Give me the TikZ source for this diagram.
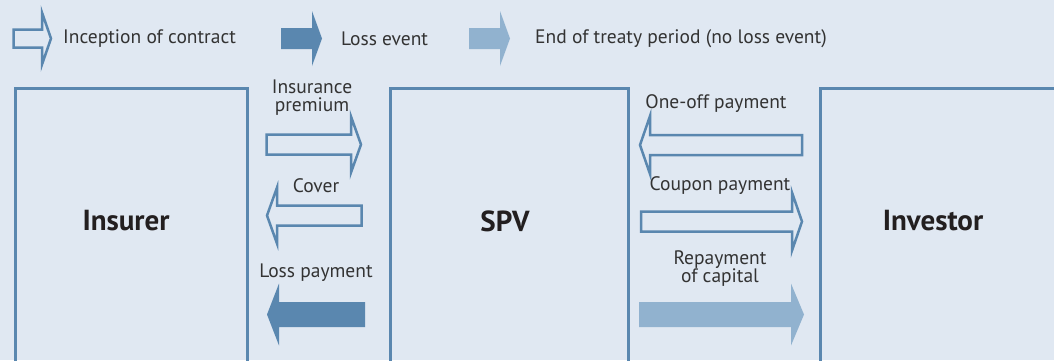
\documentclass[tikz,border=0pt]{standalone}
\usepackage{fontspec}
\setmainfont{PT Sans}
\definecolor{bg}{HTML}{E0E8F2}
\definecolor{blu}{HTML}{5A87AF}
\definecolor{lblu}{HTML}{91B2CF}
\definecolor{txt}{HTML}{333333}
\definecolor{btxt}{HTML}{231F20}
\tikzset{
  x=1pt,y=-1pt,
  box/.style={draw=blu,line width=3pt,fill=none,rectangle,inner sep=0pt,anchor=north west},
  boxlabel/.style={font=\fontsize{29}{32}\selectfont\bfseries,text=btxt},
  lbl/.style={font=\fontsize{19.5}{21}\selectfont,text=txt,align=center,inner sep=0pt},
  openarr/.style={draw=blu,line width=2.5pt,fill=none,line join=miter},
  darkarr/.style={fill=blu,draw=none},
  lightarr/.style={fill=lblu,draw=none},
}
% #1 style, #2 x0, #3 x1, #4 yc, #5 body half, #6 head half, #7 signed head length
\newcommand{\fatarrow}[7]{%
  \path[#1] (#2,{#4-#5}) -- ({#3-#7},{#4-#5}) -- ({#3-#7},{#4-#6}) -- (#3,#4)
    -- ({#3-#7},{#4+#6}) -- ({#3-#7},{#4+#5}) -- (#2,{#4+#5}) -- cycle;}
\begin{document}
\begin{tikzpicture}
\useasboundingbox (0,0) rectangle (1054,360);
\fill[bg] (0,0) rectangle (1054,360);
\clip (0,0) rectangle (1054,360);
% legend
\fatarrow{openarr}{13.5}{51}{38.5}{9}{26}{9}
\node[lbl,anchor=west] (l1) at (63,39) {Inception of contract};
\fatarrow{darkarr}{281}{322}{38.5}{10.5}{27.5}{10}
\node[lbl,anchor=west] (l2) at (341,39) {Loss event};
\fatarrow{lightarr}{469}{510}{38.5}{10.5}{27.5}{10}
\node[lbl,anchor=west] (l3) at (535,39) {End of treaty period (no loss event)};
% boxes
\node[box,minimum width=232pt,minimum height=300pt] (insurer) at (13.5,86.5) {};
\node[box,minimum width=238pt,minimum height=300pt] (spv) at (388.5,86.5) {};
\node[box,minimum width=300pt,minimum height=300pt] (investor) at (818.5,86.5) {};
\node[boxlabel] at (126,221) {Insurer};
\node[boxlabel] at (505,221) {SPV};
\node[boxlabel] at (933,221) {Investor};
% left arrows
\fatarrow{openarr}{266.5}{361}{144.5}{10}{28}{10}
\node[lbl] (ip) at (312,98) {Insurance\\[-3pt]premium};
\fatarrow{openarr}{361.5}{267}{215.5}{10}{28}{-10}
\node[lbl] (cv) at (316,186) {Cover};
\fatarrow{darkarr}{365}{267}{314.5}{12.5}{31}{-12}
\node[lbl] (lp) at (316,273) {Loss payment};
% right arrows
\fatarrow{openarr}{802}{640}{145}{10}{29}{-10}
\node[lbl] (op) at (716,104) {One-off payment};
\fatarrow{openarr}{641}{802}{221.5}{10}{29}{10}
\node[lbl] (cp) at (720,186) {Coupon payment};
\fatarrow{lightarr}{639}{804}{314.5}{12.5}{31}{13}
\node[lbl] (rc) at (720,269) {Repayment\\[-3pt]of capital};
\end{tikzpicture}
\end{document}
